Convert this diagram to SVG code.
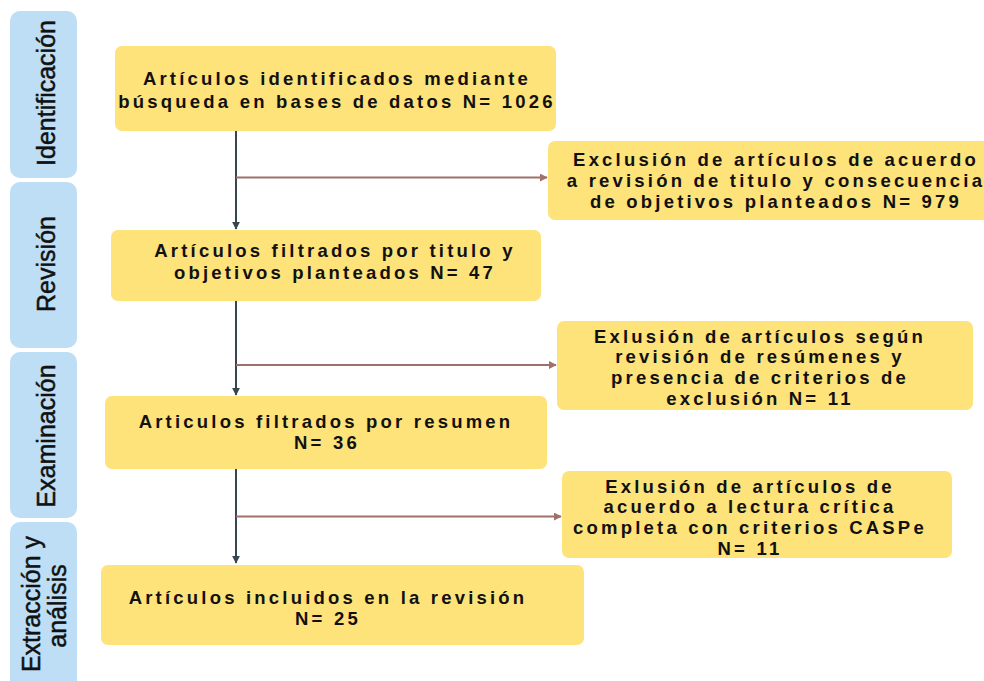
<svg xmlns="http://www.w3.org/2000/svg" width="984" height="681" viewBox="0 0 984 681">
<defs>
<style>
.bar{fill:#BDDEF4}
.box{fill:#FEE27A}
.side{font-family:"Liberation Sans",Arial,sans-serif;font-size:25px;fill:#111;stroke:#111;stroke-width:0.5px;text-anchor:middle}
.t{font-family:"Liberation Sans",Arial,sans-serif;font-size:18.5px;font-weight:bold;letter-spacing:3.2px;fill:#111;text-anchor:middle}
.down{stroke:#37474F;stroke-width:2;fill:none}
.side-arrow{stroke:#A0716B;stroke-width:2;fill:none}
</style>
<marker id="ad" viewBox="0 0 10 10" refX="9" refY="5" markerWidth="4" markerHeight="4" orient="auto" markerUnits="strokeWidth">
<path d="M0,0 L10,5 L0,10 z" fill="#37474F"/>
</marker>
<marker id="ar" viewBox="0 0 10 10" refX="9" refY="5" markerWidth="4" markerHeight="4" orient="auto" markerUnits="strokeWidth">
<path d="M0,0 L10,5 L0,10 z" fill="#A0716B"/>
</marker>
</defs>
<rect width="984" height="681" fill="#fff"/>

<g id="phase-identificacion">
<rect class="bar" x="10" y="11" width="67" height="167" rx="10"/>
<text class="side" transform="translate(55,93) rotate(-90)">Identificación</text>
</g>
<g id="phase-revision">
<rect class="bar" x="10" y="182" width="67" height="166" rx="10"/>
<text class="side" transform="translate(55,264) rotate(-90)">Revisión</text>
</g>
<g id="phase-examinacion">
<rect class="bar" x="10" y="352" width="67" height="166" rx="10"/>
<text class="side" transform="translate(55,436) rotate(-90)">Examinación</text>
</g>
<g id="phase-extraccion">
<rect class="bar" x="10" y="522" width="67" height="175" rx="10"/>
<text class="side" transform="translate(40,604) rotate(-90)">Extracción y</text>
<text class="side" transform="translate(66,606) rotate(-90)">análisis</text>
</g>

<g id="connectors">
<line class="down" x1="236" y1="131" x2="236" y2="229" marker-end="url(#ad)"/>
<line class="side-arrow" x1="236" y1="177.5" x2="547" y2="177.5" marker-end="url(#ar)"/>
<line class="down" x1="236" y1="301" x2="236" y2="395" marker-end="url(#ad)"/>
<line class="side-arrow" x1="236" y1="365" x2="556" y2="365" marker-end="url(#ar)"/>
<line class="down" x1="236" y1="469" x2="236" y2="563" marker-end="url(#ad)"/>
<line class="side-arrow" x1="236" y1="516.5" x2="561" y2="516.5" marker-end="url(#ar)"/>
</g>

<g id="n1">
<rect class="box" x="115" y="46" width="441" height="85" rx="7"/>
<text class="t" x="337" y="85">Artículos identificados mediante</text>
<text class="t" x="337" y="108">búsqueda en bases de datos N= 1026</text>
</g>
<g id="n2">
<rect class="box" x="548" y="141" width="446" height="79" rx="7"/>
<text class="t" x="776" y="166">Exclusión de artículos de acuerdo</text>
<text class="t" x="776" y="187">a revisión de titulo y consecuencia</text>
<text class="t" x="776" y="208">de objetivos planteados N= 979</text>
</g>
<g id="n3">
<rect class="box" x="111" y="230" width="430" height="71" rx="7"/>
<text class="t" x="335" y="257">Artículos filtrados por titulo y</text>
<text class="t" x="335" y="279">objetivos planteados N= 47</text>
</g>
<g id="n4">
<rect class="box" x="557" y="321" width="416" height="89" rx="7"/>
<text class="t" x="760" y="343">Exlusión de artículos según</text>
<text class="t" x="760" y="363">revisión de resúmenes y</text>
<text class="t" x="760" y="384">presencia de criterios de</text>
<text class="t" x="760" y="405">exclusión N= 11</text>
</g>
<g id="n5">
<rect class="box" x="105" y="396" width="442" height="73" rx="7"/>
<text class="t" x="326" y="428">Articulos filtrados por resumen</text>
<text class="t" x="327" y="449">N= 36</text>
</g>
<g id="n6">
<rect class="box" x="562" y="471" width="390" height="87" rx="7"/>
<text class="t" x="750" y="493">Exlusión de artículos de</text>
<text class="t" x="750" y="513">acuerdo a lectura crítica</text>
<text class="t" x="750" y="534">completa con criterios CASPe</text>
<text class="t" x="750" y="555">N= 11</text>
</g>
<g id="n7">
<rect class="box" x="101" y="565" width="483" height="80" rx="7"/>
<text class="t" x="328" y="604">Artículos incluidos en la revisión</text>
<text class="t" x="328" y="625">N= 25</text>
</g>
</svg>
